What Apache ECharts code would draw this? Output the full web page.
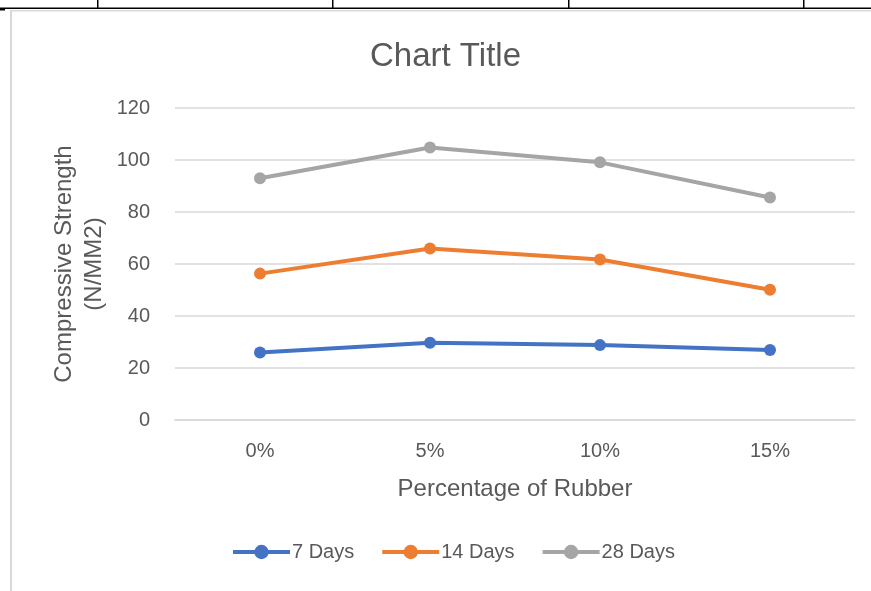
<!DOCTYPE html>
<html>
<head>
<meta charset="utf-8">
<style>
  html, body { margin: 0; padding: 0; background: #ffffff; }
  #chart { width: 871px; height: 591px; }
</style>
<script src="https://cdn.jsdelivr.net/npm/echarts@6/dist/echarts.min.js"></script>
</head>
<body>
<div id="chart"></div>
<script>
const categories = ['0%', '5%', '10%', '15%'];
const days7 = [26.0, 29.7, 28.8, 26.9];
const days14 = [56.3, 66.0, 61.7, 50.1];
const days28 = [93.0, 104.8, 99.1, 85.6];
const seriesNames = ['7 Days', '14 Days', '28 Days'];
const chartTitle = 'Chart Title';
const xTitle = 'Percentage of Rubber';
const yTitle = 'Compressive Strength\n(N/MM2)';

const FONT = '"Liberation Sans", Arial, sans-serif';
const TXT = '#595959';
const GRIDC = '#d9d9d9';
const colors = ['#4472C4', '#ED7D31', '#A5A5A5'];

const chart = echarts.init(document.getElementById('chart'), null, { renderer: 'canvas' });

function lineSeries(name, data, color) {
  return {
    name: name,
    type: 'line',
    data: data,
    symbol: 'circle',
    symbolSize: 12,
    showSymbol: true,
    lineStyle: { color: color, width: 4 },
    itemStyle: { color: color },
    emphasis: { disabled: true },
    animation: false
  };
}

chart.setOption({
  animation: false,
  backgroundColor: '#ffffff',
  textStyle: { fontFamily: FONT },
  title: {
    text: chartTitle,
    left: 365,
    top: 35,
    textStyle: { fontFamily: FONT, fontSize: 33, fontWeight: 'normal', color: TXT }
  },
  legend: {
    data: seriesNames,
    left: 231,
    top: 542,
    padding: 0,
    itemWidth: 57,
    itemHeight: 18,
    itemGap: 26,
    lineStyle: { width: 4 },
    textStyle: { fontFamily: FONT, fontSize: 20, color: TXT, padding: [0, 0, 0, -3] }
  },
  grid: { left: 175, right: 16, top: 108, bottom: 171, containLabel: false },
  xAxis: {
    type: 'category',
    data: categories,
    boundaryGap: true,
    axisLine: { show: true, lineStyle: { color: GRIDC, width: 1.5 } },
    axisTick: { show: false },
    axisLabel: { fontFamily: FONT, fontSize: 20, color: TXT, margin: 21 },
    name: xTitle,
    nameLocation: 'middle',
    nameGap: 57,
    nameMoveOverlap: false,
    nameTextStyle: { fontFamily: FONT, fontSize: 24, color: TXT }
  },
  yAxis: {
    type: 'value',
    min: 0,
    max: 120,
    interval: 20,
    axisLine: { show: false },
    axisTick: { show: false },
    splitLine: { show: true, lineStyle: { color: GRIDC, width: 1.5 } },
    axisLabel: { fontFamily: FONT, fontSize: 20, color: TXT, margin: 25 },
    name: yTitle,
    nameLocation: 'middle',
    nameRotate: 90,
    nameGap: 66,
    nameMoveOverlap: false,
    nameTextStyle: { fontFamily: FONT, fontSize: 24, color: TXT, lineHeight: 30 }
  },
  series: [
    lineSeries(seriesNames[0], days7, colors[0]),
    lineSeries(seriesNames[1], days14, colors[1]),
    lineSeries(seriesNames[2], days28, colors[2])
  ],
  graphic: [
    { type: 'rect', silent: true, shape: { x: 0, y: 7.5, width: 871, height: 1.5 }, style: { fill: '#000000' } },
    { type: 'rect', silent: true, shape: { x: 97, y: 0, width: 1.5, height: 8 }, style: { fill: '#000000' } },
    { type: 'rect', silent: true, shape: { x: 332, y: 0, width: 1.5, height: 8 }, style: { fill: '#000000' } },
    { type: 'rect', silent: true, shape: { x: 568, y: 0, width: 1.5, height: 8 }, style: { fill: '#000000' } },
    { type: 'rect', silent: true, shape: { x: 803, y: 0, width: 1.5, height: 8 }, style: { fill: '#000000' } },
    { type: 'rect', silent: true, shape: { x: 0, y: 9, width: 5, height: 1.5 }, style: { fill: '#000000' } },
    { type: 'rect', silent: true, shape: { x: 10, y: 10, width: 861, height: 1.5 }, style: { fill: '#d9d9d9' } },
    { type: 'rect', silent: true, shape: { x: 10, y: 10, width: 2, height: 581 }, style: { fill: '#d9d9d9' } }
  ]
});
</script>
</body>
</html>
